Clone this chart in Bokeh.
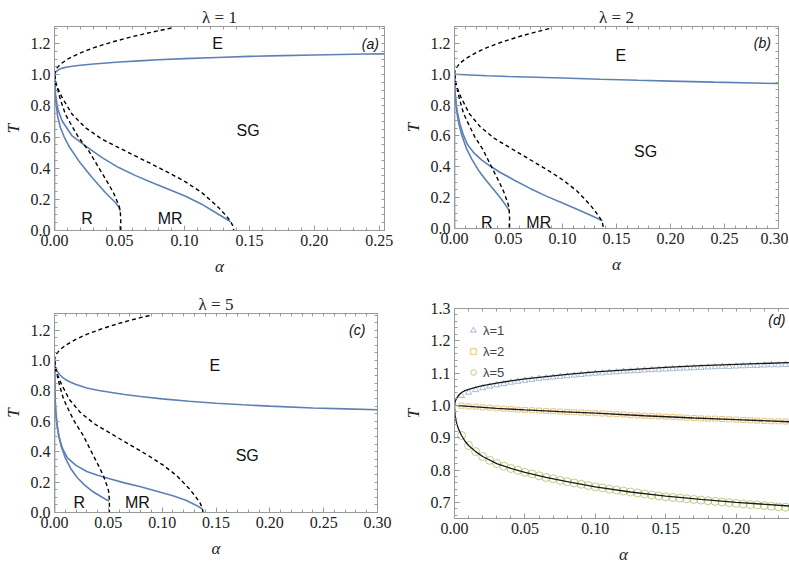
import numpy as np
from bokeh.plotting import figure
from bokeh.layouts import column, row
from bokeh.models import (FixedTicker, LinearAxis, Range1d, Label, Legend,
                          LegendItem, PrintfTickFormatter)
from bokeh.embed import file_html
from bokeh.resources import INLINE

# ---------------- data ----------------
# AGS (Hopfield) reference lines, dashed, identical in panels a-c
tg_alpha = [0, 0.0005, 0.002, 0.005, 0.01, 0.02, 0.03, 0.045, 0.06, 0.075, 0.09]
tg_T = [1.0, 1.022, 1.045, 1.071, 1.1, 1.141, 1.173, 1.212, 1.245, 1.274, 1.3]

tm_alpha = [0, 0.001, 0.0059, 0.0136, 0.0238, 0.0366, 0.0494, 0.0621, 0.0749, 0.0877,
            0.1005, 0.1133, 0.12, 0.126, 0.131, 0.135, 0.137, 0.138]
tm_T = [1.0, 0.94, 0.853, 0.746, 0.66, 0.586, 0.532, 0.479, 0.426, 0.372,
        0.314, 0.244, 0.195, 0.15, 0.105, 0.065, 0.035, 0.0]

tc_alpha = [0, 0.002, 0.0046, 0.0084, 0.0135, 0.0187, 0.0264, 0.034, 0.0417, 0.0455,
            0.0481, 0.0498, 0.0506, 0.051, 0.051]
tc_T = [1.0, 0.917, 0.84, 0.746, 0.67, 0.596, 0.511, 0.404, 0.297, 0.24,
        0.19, 0.155, 0.126, 0.07, 0.0]

# vertical boundary along alpha = 0
axis_alpha = [0, 0]
axis_T = [0, 1.0]

# E / SG boundary for lambda = 1, 2, 5
l1_alpha = [0, 0.0005, 0.0015, 0.003, 0.005, 0.0075, 0.01, 0.015, 0.02, 0.03, 0.04,
            0.05, 0.065, 0.08, 0.1, 0.125, 0.15, 0.175, 0.2, 0.24, 0.26]
l1_T = [1.0, 1.012, 1.022, 1.032, 1.04, 1.046, 1.05, 1.056, 1.061, 1.069, 1.076,
        1.082, 1.089, 1.096, 1.104, 1.111, 1.118, 1.123, 1.127, 1.133, 1.135]

l2_alpha = [0, 0.01, 0.03, 0.05, 0.075, 0.1, 0.135, 0.17, 0.2, 0.24, 0.3]
l2_T = [1.0, 0.997, 0.991, 0.986, 0.981, 0.976, 0.968, 0.961, 0.956, 0.949, 0.94]

l5_alpha = [0, 0.0005, 0.0015, 0.003, 0.005, 0.0075, 0.01, 0.015, 0.02, 0.03, 0.04,
            0.05, 0.065, 0.08, 0.1, 0.125, 0.15, 0.175, 0.2, 0.24, 0.27, 0.3]
l5_T = [1.0, 0.965, 0.945, 0.925, 0.907, 0.889, 0.876, 0.857, 0.842, 0.82, 0.805,
        0.793, 0.777, 0.764, 0.748, 0.732, 0.719, 0.709, 0.7, 0.688, 0.682, 0.676]

# retrieval (R) and mixture-retrieval (MR) boundaries
a_R_alpha = [0, 0.0003, 0.0013, 0.0025, 0.0046, 0.0075, 0.011, 0.0187, 0.0289, 0.0391,
             0.0468, 0.0495, 0.0506]
a_R_T = [1.0, 0.895, 0.81, 0.73, 0.66, 0.6, 0.543, 0.447, 0.34, 0.244,
         0.18, 0.15, 0.126]
a_MR_alpha = [0, 0.0008, 0.0025, 0.0059, 0.0136, 0.0238, 0.0366, 0.0494, 0.062, 0.0749,
              0.0877, 0.1005, 0.1133, 0.122, 0.13, 0.1355]
a_MR_T = [1.0, 0.874, 0.78, 0.703, 0.607, 0.543, 0.468, 0.404, 0.354, 0.308,
          0.265, 0.222, 0.169, 0.125, 0.085, 0.055]

b_R_alpha = [0, 0.0003, 0.001, 0.002, 0.004, 0.007, 0.011, 0.016, 0.022, 0.029, 0.036,
             0.043, 0.048, 0.0508]
b_R_T = [1.0, 0.9, 0.83, 0.76, 0.68, 0.6, 0.52, 0.45, 0.38, 0.315, 0.255,
         0.195, 0.145, 0.115]
b_MR_alpha = [0, 0.0004, 0.0012, 0.0025, 0.005, 0.008, 0.012, 0.018, 0.025, 0.033, 0.042,
              0.055, 0.07, 0.085, 0.1, 0.115, 0.128, 0.137]
b_MR_T = [1.0, 0.9, 0.83, 0.76, 0.68, 0.61, 0.545, 0.49, 0.445, 0.405, 0.365,
          0.315, 0.26, 0.21, 0.165, 0.12, 0.08, 0.05]

c_R_alpha = [0, 0.0002, 0.0006, 0.0012, 0.002, 0.0035, 0.006, 0.01, 0.015, 0.021, 0.028,
             0.035, 0.042, 0.048, 0.0508]
c_R_T = [1.0, 0.85, 0.74, 0.66, 0.6, 0.52, 0.44, 0.36, 0.29, 0.23, 0.18,
         0.14, 0.11, 0.085, 0.075]
c_MR_alpha = [0, 0.0003, 0.001, 0.0025, 0.0045, 0.0075, 0.012, 0.02, 0.03, 0.04, 0.052,
              0.065, 0.08, 0.095, 0.11, 0.122, 0.131, 0.137]
c_MR_T = [1.0, 0.8, 0.68, 0.57, 0.49, 0.42, 0.36, 0.31, 0.27, 0.245, 0.22,
          0.195, 0.17, 0.14, 0.11, 0.08, 0.05, 0.025]

# panel (d) simulation markers
mk_alpha = [0.005, 0.010, 0.015, 0.020, 0.025, 0.030, 0.035, 0.040, 0.045, 0.050,
            0.055, 0.060, 0.065, 0.070, 0.075, 0.080, 0.085, 0.090, 0.095, 0.100,
            0.105, 0.110, 0.115, 0.120, 0.125, 0.130, 0.135, 0.140, 0.145, 0.150,
            0.155, 0.160, 0.165, 0.170, 0.175, 0.180, 0.185, 0.190, 0.195, 0.200,
            0.205, 0.210, 0.215, 0.220, 0.225, 0.230, 0.235, 0.240]
mk_l1 = [1.030, 1.040, 1.048, 1.054, 1.059, 1.063, 1.067, 1.071, 1.074, 1.077,
         1.080, 1.083, 1.085, 1.087, 1.089, 1.091, 1.093, 1.095, 1.097, 1.099,
         1.100, 1.102, 1.103, 1.105, 1.106, 1.107, 1.109, 1.110, 1.111, 1.112,
         1.113, 1.114, 1.115, 1.116, 1.117, 1.118, 1.119, 1.120, 1.120, 1.121,
         1.122, 1.123, 1.123, 1.124, 1.125, 1.125, 1.126, 1.126]
mk_l2 = [0.999, 0.997, 0.996, 0.994, 0.993, 0.991, 0.990, 0.989, 0.987, 0.986,
         0.985, 0.984, 0.983, 0.982, 0.981, 0.980, 0.979, 0.978, 0.977, 0.976,
         0.975, 0.974, 0.973, 0.972, 0.970, 0.969, 0.968, 0.967, 0.966, 0.965,
         0.964, 0.963, 0.962, 0.961, 0.960, 0.959, 0.959, 0.958, 0.957, 0.956,
         0.955, 0.954, 0.953, 0.952, 0.951, 0.951, 0.950, 0.949]
mk_l5 = [0.907, 0.876, 0.857, 0.842, 0.830, 0.820, 0.812, 0.805, 0.799, 0.793,
         0.788, 0.782, 0.777, 0.773, 0.768, 0.764, 0.760, 0.756, 0.752, 0.748,
         0.745, 0.741, 0.738, 0.735, 0.732, 0.729, 0.726, 0.723, 0.720, 0.717,
         0.715, 0.713, 0.711, 0.709, 0.707, 0.705, 0.703, 0.701, 0.699, 0.697,
         0.695, 0.693, 0.692, 0.690, 0.688, 0.686, 0.685, 0.683]

# tick labels
ticks_T = [0.0, 0.2, 0.4, 0.6, 0.8, 1.0, 1.2]
ticks_Td = [0.7, 0.8, 0.9, 1.0, 1.1, 1.2, 1.3]
ticks_alpha = [0.0, 0.05, 0.10, 0.15, 0.20, 0.25, 0.30]
ticks_alpha_d = [0.0, 0.05, 0.10, 0.15, 0.20]

# ---------------- styling ----------------
BLUE = "#5E81B5"
ORANGE = "#E19C24"
GREEN = "#8FB032"
SPINE = "#9a9a9a"
SERIF = "Liberation Serif"
SANS = "Liberation Sans"


def grid_vals(lo, hi, step):
    n = int(round((hi - lo) / step))
    return [round(lo + i * step, 6) for i in range(n + 1)]


def style_axis(ax, ticks, minors):
    ax.ticker = FixedTicker(ticks=ticks, minor_ticks=minors)
    ax.axis_line_color = SPINE
    ax.major_tick_line_color = SPINE
    ax.minor_tick_line_color = SPINE
    ax.major_tick_in = 5
    ax.major_tick_out = 0
    ax.minor_tick_in = 3
    ax.minor_tick_out = 0
    ax.major_label_text_font = SERIF
    ax.major_label_text_font_size = "16px"
    ax.major_label_text_color = "#222222"
    ax.major_label_standoff = 4
    ax.axis_label_text_font = SERIF
    ax.axis_label_text_font_style = "italic"
    ax.axis_label_text_font_size = "17px"
    ax.axis_label_text_color = "#222222"


def frame_axis(ticks, minors):
    # mirror axis on top / right: ticks only, no labels at all
    ax = LinearAxis(ticker=FixedTicker(ticks=[], minor_ticks=sorted(set(ticks) | set(minors))))
    ax.axis_line_color = SPINE
    ax.minor_tick_line_color = SPINE
    ax.minor_tick_in = 3
    ax.minor_tick_out = 0
    ax.major_tick_in = 0
    ax.major_tick_out = 0
    ax.major_label_standoff = 0
    return ax


def make_fig(title, xr, yr, fw, fh, bl, br, bt, bb, xt, xminor, yt, yminor):
    p = figure(frame_width=fw, frame_height=fh, x_range=Range1d(*xr), y_range=Range1d(*yr),
               output_backend="svg", toolbar_location=None,
               min_border_left=bl, min_border_right=br,
               min_border_top=bt, min_border_bottom=bb)
    p.grid.visible = False
    p.outline_line_color = SPINE
    p.background_fill_color = "white"
    p.border_fill_color = "white"
    if title:
        p.title.text = title
        p.title.align = "center"
        p.title.text_font = SERIF
        p.title.text_font_style = "normal"
        p.title.text_font_size = "17px"
        p.title.text_color = "#222222"
        p.title.standoff = 0
        p.title.offset = 0
    style_axis(p.xaxis[0], xt, xminor)
    style_axis(p.yaxis[0], yt, yminor)
    p.xaxis[0].formatter = PrintfTickFormatter(format="%.2f")
    p.yaxis[0].formatter = PrintfTickFormatter(format="%.1f")
    p.xaxis[0].axis_label = "α"
    p.yaxis[0].axis_label = "T"
    p.xaxis[0].axis_label_standoff = 8
    p.yaxis[0].axis_label_standoff = 5
    p.add_layout(frame_axis(xt, xminor), "above")
    p.add_layout(frame_axis(yt, yminor), "right")
    return p


def label(p, x, y, text, size="16px", style="normal", align="center"):
    p.add_layout(Label(x=x, y=y, text=text, text_font=SANS, text_font_size=size,
                       text_font_style=style, text_align=align,
                       text_baseline="middle", text_color="#111111"))


def phase_panel(p, R_a, R_T, MR_a, MR_T, up_a, up_T):
    p.line(axis_alpha, axis_T, line_color=BLUE, line_width=1.6)
    p.line(up_a, up_T, line_color=BLUE, line_width=1.6)
    p.line(R_a, R_T, line_color=BLUE, line_width=1.6)
    p.line(MR_a, MR_T, line_color=BLUE, line_width=1.6)
    for xa, ya in ((tg_alpha, tg_T), (tm_alpha, tm_T), (tc_alpha, tc_T)):
        p.line(xa, ya, line_color="black", line_width=1.4, line_dash="4 3")


yT_minor = grid_vals(0.0, 1.3, 0.05)
x_minor = grid_vals(0.0, 0.3, 0.01)

# panel (a)
pa = make_fig("λ = 1", (0, 0.254), (0, 1.31), 330, 204, 52, 16, 26, 50,
              ticks_alpha[:6], x_minor, ticks_T, yT_minor)
phase_panel(pa, a_R_alpha, a_R_T, a_MR_alpha, a_MR_T, l1_alpha, l1_T)
label(pa, 0.1255, 1.2, "E")
label(pa, 0.149, 0.64, "SG")
label(pa, 0.025, 0.08, "R")
label(pa, 0.089, 0.08, "MR")
label(pa, 0.2497, 1.2, "(a)", "14px", "italic", "right")

# panel (b)
pb = make_fig("λ = 2", (0, 0.3), (0, 1.31), 324, 202, 50, 10, 26, 52,
              ticks_alpha, x_minor, ticks_T, yT_minor)
phase_panel(pb, b_R_alpha, b_R_T, b_MR_alpha, b_MR_T, l2_alpha, l2_T)
label(pb, 0.154, 1.12, "E")
label(pb, 0.177, 0.5, "SG")
label(pb, 0.030, 0.04, "R")
label(pb, 0.078, 0.04, "MR")
label(pb, 0.293, 1.2, "(b)", "14px", "italic", "right")

# panel (c)
pc = make_fig("λ = 5", (0, 0.3), (0, 1.31), 323, 199, 52, 23, 33, 50,
              ticks_alpha, x_minor, ticks_T, yT_minor)
phase_panel(pc, c_R_alpha, c_R_T, c_MR_alpha, c_MR_T, l5_alpha, l5_T)
label(pc, 0.149, 0.97, "E")
label(pc, 0.179, 0.377, "SG")
label(pc, 0.023, 0.068, "R")
label(pc, 0.077, 0.068, "MR")
label(pc, 0.2888, 1.2, "(c)", "14px", "italic", "right")

# panel (d)
pd = make_fig(None, (0, 0.24), (0.65, 1.3), 338, 210, 51, 1, 28, 44,
              ticks_alpha_d, grid_vals(0.0, 0.24, 0.01), ticks_Td, grid_vals(0.66, 1.3, 0.02))
r1 = pd.scatter(mk_alpha, mk_l1, marker="triangle", size=6, fill_color=None,
                line_color=BLUE, line_alpha=0.55, line_width=1)
r2 = pd.scatter(mk_alpha, mk_l2, marker="square", size=5, fill_color=None,
                line_color=ORANGE, line_alpha=0.6, line_width=1)
r5 = pd.scatter(mk_alpha, mk_l5, marker="circle", size=8, fill_color=None,
                line_color=GREEN, line_alpha=0.6, line_width=1)
for xa, ya in ((l1_alpha, l1_T), (l2_alpha, l2_T), (l5_alpha, l5_T)):
    pd.line(xa, ya, line_color="#1a1a1a", line_width=1.3)
leg = Legend(items=[LegendItem(label="λ=1", renderers=[r1]),
                    LegendItem(label="λ=2", renderers=[r2]),
                    LegendItem(label="λ=5", renderers=[r5])],
             location="top_left", margin=8, padding=4, glyph_width=14,
             glyph_height=20, label_height=20, spacing=1, label_standoff=3,
             label_text_font=SANS, label_text_font_size="13px",
             background_fill_alpha=0, border_line_alpha=0)
pd.add_layout(leg)
label(pd, 0.235, 1.263, "(d)", "14px", "italic", "right")

layout = column(row(column(pa), column(pb)), row(column(pc), column(pd)))
open("out.html", "w").write(file_html(layout, INLINE))
